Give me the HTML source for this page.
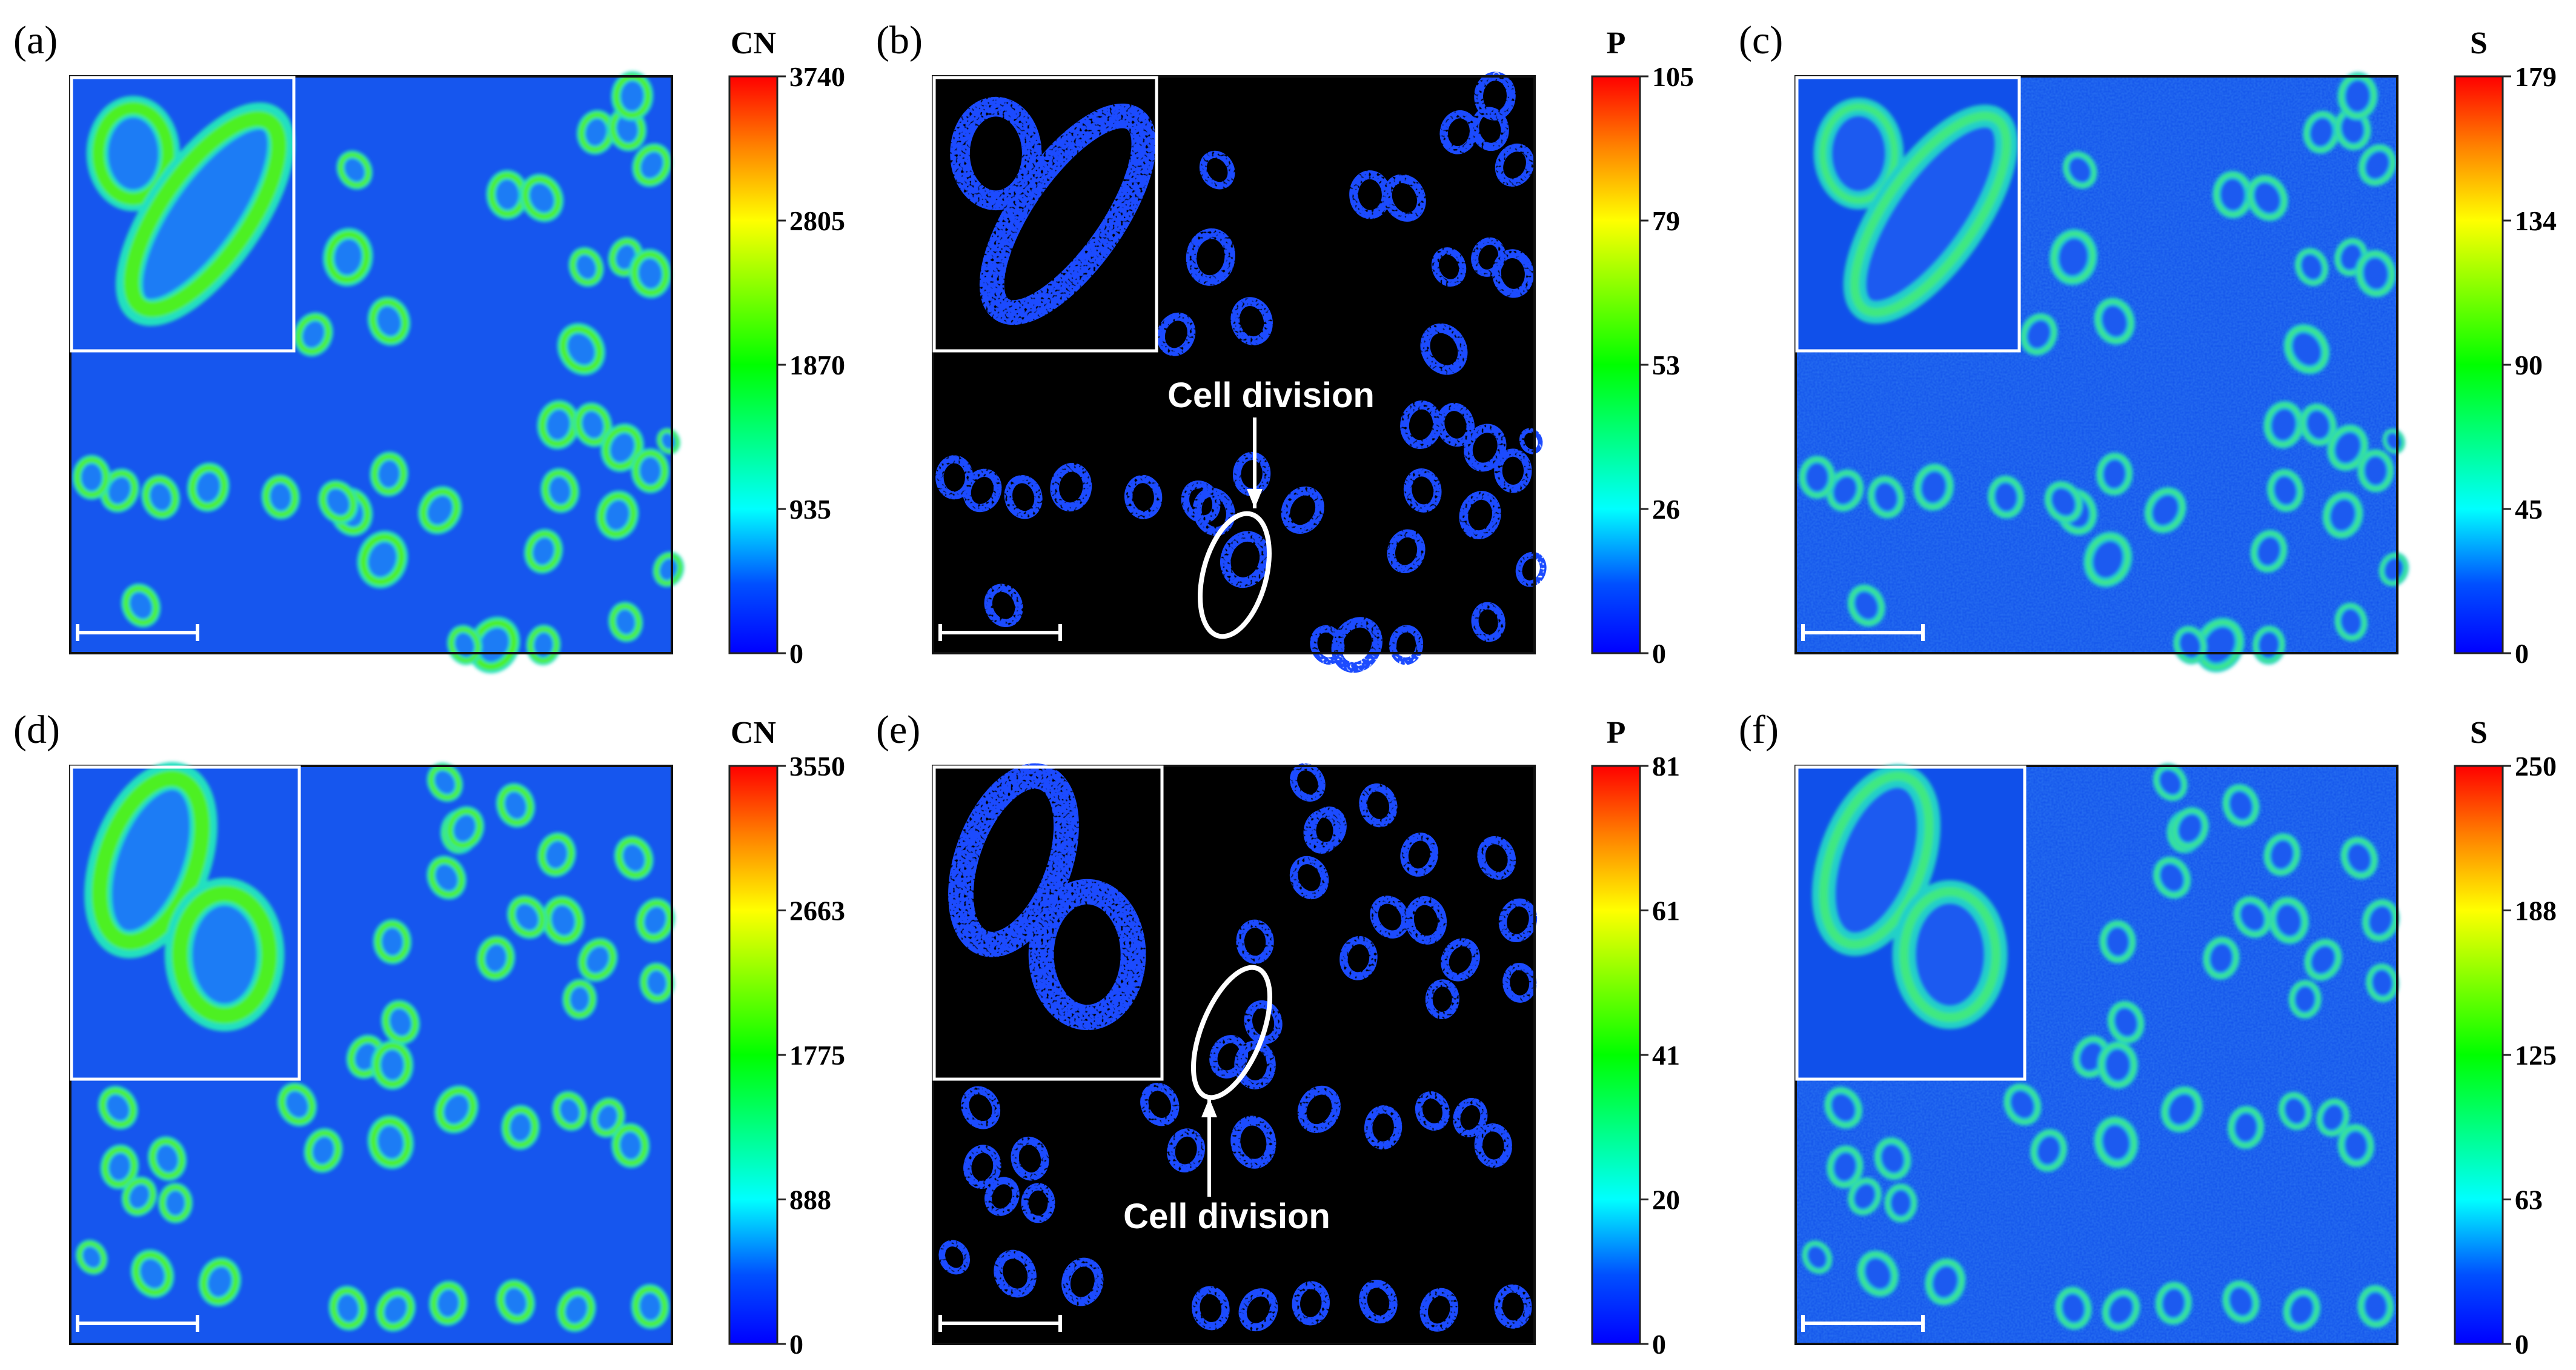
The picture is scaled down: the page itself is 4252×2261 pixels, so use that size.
<!DOCTYPE html>
<html><head><meta charset="utf-8">
<style>
html,body{margin:0;padding:0;background:#fff;}
svg{display:block;}
</style></head>
<body>
<svg id="fig" xmlns="http://www.w3.org/2000/svg" width="4252" height="2261" viewBox="0 0 4252 2261">
<defs>
<linearGradient id="jet" x1="0" y1="1" x2="0" y2="0">
<stop offset="0" stop-color="#0000ff"/>
<stop offset="0.12" stop-color="#0050ff"/>
<stop offset="0.25" stop-color="#00ffff"/>
<stop offset="0.5" stop-color="#00ff00"/>
<stop offset="0.75" stop-color="#ffff00"/>
<stop offset="0.88" stop-color="#ff8000"/>
<stop offset="1" stop-color="#ff0000"/>
</linearGradient>
<filter id="soft" x="-20%" y="-20%" width="140%" height="140%"><feGaussianBlur stdDeviation="3"/></filter>
<filter id="speck" x="-20%" y="-20%" width="140%" height="140%">
<feTurbulence type="fractalNoise" baseFrequency="0.22" numOctaves="1" seed="3" result="n"/>
<feColorMatrix in="n" type="matrix" values="0 0 0 0 0  0 0 0 0 0  0 0 0 0 0  0 0 0 7 -1.9" result="m"/>
<feComposite in="SourceGraphic" in2="m" operator="in"/>
</filter>
<filter id="noise" x="0" y="0" width="100%" height="100%">
<feTurbulence type="fractalNoise" baseFrequency="0.3" numOctaves="1" seed="7"/>
<feColorMatrix type="matrix" values="0 0 0 0 0.1  0 0 0 0 0.45  0 0 0 0 1  0 0 0 0.35 0"/>
</filter>
</defs>
<g id="root"></g>
</svg>
<script>
// Cell positions (display-relative units within a 366x351 image), rx, ry
const topCellsX = [173,169,194,148,266,287,320,339,354,342,314,338,353,311,297,318,336,353,364,333,298,225,194,171,190,128,163,84,55,30,13,43,288,338,258,288,240,364];
const topCellsY = [57,110,149,157,72,74,34,32,54,12,116,110,120,166,212,212,226,240,222,267,252,264,242,265,294,256,259,250,256,252,244,322,289,332,346,346,346,300];
const topCellsR = [9,13,11,10,11,11,10,10,10,11,9,9,11,12,11,10,11,10,6,11,10,11,10,11,13,10,10,11,10,10,10,10,10,9,13,9,9,8];
const botCellsX = [228,237,271,240,196,229,296,300,321,310,343,356,357,278,259,201,180,196,138,154,195,235,274,304,327,341,29,30,59,42,64,50,91,169,198,230,271,308,353,13];
const botCellsY = [10,40,24,38,107,68,54,94,118,142,56,94,132,92,117,156,177,182,206,234,229,209,220,210,214,231,208,244,239,262,266,309,314,330,331,327,326,331,329,299];
const botCellsR = [9,10,10,10,10,10,10,11,10,9,10,10,9,10,10,10,10,11,10,10,12,11,10,9,9,10,10,10,10,9,9,11,11,10,10,10,10,10,10,8];

const tickA = ['0','935','1870','2805','3740'];
const tickB = ['0','26','53','79','105'];
const tickC = ['0','45','90','134','179'];
const tickD = ['0','888','1775','2663','3550'];
const tickE = ['0','20','41','61','81'];
const tickF = ['0','63','125','188','250'];

const NS = 'http://www.w3.org/2000/svg';
const root = document.getElementById('root');
const S = 2.712;
function mk(tag, attrs, parent){
  const e = document.createElementNS(NS, tag);
  for (const k in attrs) e.setAttribute(k, attrs[k]);
  (parent||root).appendChild(e);
  return e;
}

const panels = [
  {id:'a', x:116, y:126, h:952, kind:'cn', label:'(a)', cb:'CN', ticks:tickA, cells:'top'},
  {id:'b', x:1540, y:126, h:952, kind:'p', label:'(b)', cb:'P', ticks:tickB, cells:'top'},
  {id:'c', x:2964, y:126, h:952, kind:'s', label:'(c)', cb:'S', ticks:tickC, cells:'top'},
  {id:'d', x:116, y:1264, h:954, kind:'cn', label:'(d)', cb:'CN', ticks:tickD, cells:'bot'},
  {id:'e', x:1540, y:1264, h:954, kind:'p', label:'(e)', cb:'P', ticks:tickE, cells:'bot'},
  {id:'f', x:2964, y:1264, h:954, kind:'s', label:'(f)', cb:'S', ticks:tickF, cells:'bot'}
];
const W = 993;

function drawCell(g, kind, cx, cy, rx, ry, rot){
  const tr = 'rotate('+rot+' '+cx+' '+cy+')';
  if (kind==='cn'){
    mk('ellipse',{cx:cx,cy:cy,rx:rx,ry:ry,fill:'#1a7cf5',stroke:'#20e0c0','stroke-width':rx*0.6,transform:tr},g);
    mk('ellipse',{cx:cx,cy:cy,rx:rx*0.97,ry:ry*0.97,fill:'none',stroke:'#4ef020','stroke-width':rx*0.35,transform:tr},g);
  } else if (kind==='p'){
    mk('ellipse',{cx:cx,cy:cy,rx:rx,ry:ry,fill:'none',stroke:'#1a4cff','stroke-width':rx*0.55,transform:tr},g);
  } else {
    mk('ellipse',{cx:cx,cy:cy,rx:rx,ry:ry,fill:'#1a5af0',stroke:'#20d0c8','stroke-width':rx*0.5,transform:tr},g);
    mk('ellipse',{cx:cx,cy:cy,rx:rx,ry:ry,fill:'none',stroke:'#40e880','stroke-width':rx*0.2,transform:tr},g);
  }
}

panels.forEach(function(p){
  const bg = p.kind==='cn' ? '#1656ee' : (p.kind==='p' ? '#000000' : '#1050ea');
  const img = mk('g',{});
  
  
  mk('rect',{x:p.x,y:p.y,width:W,height:p.h,fill:bg},img);
  if (p.kind==='s') mk('rect',{x:p.x,y:p.y,width:W,height:p.h,filter:'url(#noise)'},img);
  const cg = mk('g',{filter: p.kind==='p' ? 'url(#speck)' : 'url(#soft)'},img);
  const xs = p.cells==='top'?topCellsX:botCellsX, ys = p.cells==='top'?topCellsY:botCellsY, rs = p.cells==='top'?topCellsR:botCellsR;
  for (let i=0;i<xs.length;i++){
    const cx = p.x + xs[i]*S, cy = p.y + ys[i]*S, r = rs[i]*S;
    drawCell(cg, p.kind, cx, cy, r*0.9, r*1.1, (i*37)%60-30);
  }
  // inset
  const iw = p.cells==='top' ? 371 : 380, ih = p.cells==='top' ? 455 : 519;
  const ins = mk('g',{});
  
  
  mk('rect',{x:p.x,y:p.y,width:iw,height:ih,fill:bg},ins);
  const ig = mk('g',{filter: p.kind==='p' ? 'url(#speck)' : 'url(#soft)'},ins);
  if (p.cells==='top'){
    drawCell(ig,p.kind,p.x+iw*0.28,p.y+ih*0.28,iw*0.16,ih*0.17,0);
    drawCell(ig,p.kind,p.x+iw*0.6,p.y+ih*0.5,iw*0.2,ih*0.42,35);
  } else {
    drawCell(ig,p.kind,p.x+iw*0.35,p.y+ih*0.3,iw*0.2,ih*0.28,20);
    drawCell(ig,p.kind,p.x+iw*0.67,p.y+ih*0.6,iw*0.2,ih*0.2,0);
  }
  mk('rect',{x:p.x+2,y:p.y+2,width:iw-4,height:ih-4,fill:'none',stroke:'#fff','stroke-width':5},ins);
  // frame
  mk('rect',{x:p.x,y:p.y,width:W,height:p.h,fill:'none',stroke:'#111','stroke-width':4},img);
  // scale bar
  const sb = mk('g',{stroke:'#fff','stroke-width':6});
  
  
  const sy = p.y + p.h - 34;
  mk('line',{x1:p.x+12,y1:sy,x2:p.x+210,y2:sy},sb);
  mk('line',{x1:p.x+12,y1:sy-14,x2:p.x+12,y2:sy+14},sb);
  mk('line',{x1:p.x+210,y1:sy-14,x2:p.x+210,y2:sy+14},sb);
  // panel label
  const lab = mk('text',{x:p.x-94,y:p.y-38,'font-family':'Liberation Serif, serif','font-size':66,fill:'#000'});
  lab.textContent = p.label;
  
  
  // colorbar
  const cbx = p.x + 1088, cbw = 79;
  const cbar = mk('g',{});
  
  
  mk('rect',{x:cbx,y:p.y,width:cbw,height:p.h,fill:'url(#jet)',stroke:'#222','stroke-width':3},cbar);
  const ttl = mk('text',{x:cbx+cbw/2,y:p.y-38,'text-anchor':'middle','font-family':'Liberation Serif, serif','font-weight':'bold','font-size':52,fill:'#000'});
  ttl.textContent = p.cb;
  
  
  const n = p.ticks.length - 1;
  p.ticks.forEach(function(t,i){
    const ty = p.y + p.h - i/n*p.h;
    mk('line',{x1:cbx+cbw,y1:ty,x2:cbx+cbw+14,y2:ty,stroke:'#222','stroke-width':3},cbar);
    const tl = mk('text',{x:cbx+cbw+20,y:ty+16,'font-family':'Liberation Serif, serif','font-weight':'bold','font-size':46,fill:'#000'},cbar);
    tl.textContent = t;
    
    
  });
});

// annotations
function annot(id, tx, ty, ax, ay1, ay2, ex, ey, erx, ery, erot, headDown){
  const g = mk('g',{});
  
  
  const t = mk('text',{x:tx,y:ty,'text-anchor':'middle','font-family':'Liberation Sans, sans-serif','font-weight':'bold','font-size':58,fill:'#fff'},g);
  t.textContent = 'Cell division';
  mk('line',{x1:ax,y1:ay1,x2:ax,y2:ay2,stroke:'#fff','stroke-width':6},g);
  const tip = ay2, d = headDown ? -1 : 1;
  mk('polygon',{points:(ax-13)+','+(tip+d*32)+' '+(ax+13)+','+(tip+d*32)+' '+ax+','+tip,fill:'#fff'},g);
  mk('ellipse',{cx:ex,cy:ey,rx:erx,ry:ery,fill:'none',stroke:'#fff','stroke-width':8,transform:'rotate('+erot+' '+ex+' '+ey+')'},g);
}
annot('b', 2098, 672, 2071, 689, 839, 2038, 949, 52, 104, 15, true);
annot('e', 2025, 2027, 1996, 1975, 1812, 2033, 1704, 50, 114, 22, false);
</script>
</body></html>
